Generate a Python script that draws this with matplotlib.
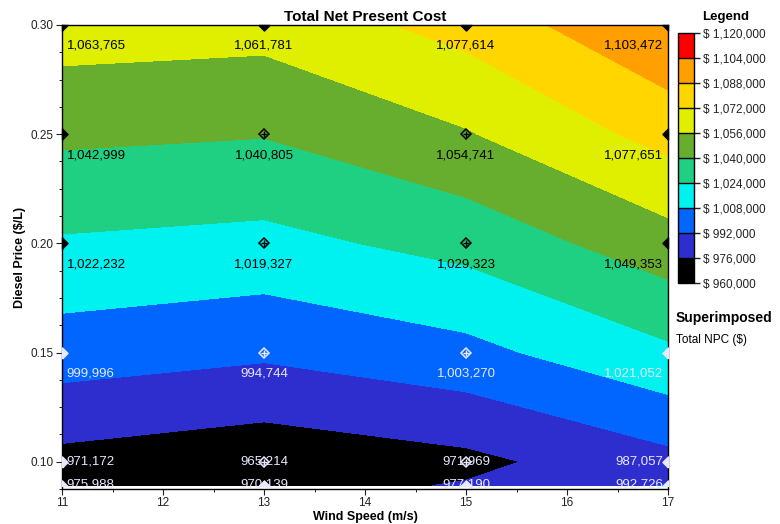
import numpy as np
import matplotlib
matplotlib.use('Agg')
import matplotlib.pyplot as plt
from matplotlib.colors import ListedColormap, BoundaryNorm

plt.rcParams['font.family'] = ['Liberation Sans', 'DejaVu Sans']

# sensitivity grid
wind_speed = [11, 13, 15, 17]
diesel_price = [0.089, 0.10, 0.15, 0.20, 0.25, 0.30]
npc = [
    [975988, 970139, 977190, 992726],
    [971172, 965214, 971969, 987057],
    [999996, 994744, 1003270, 1021052],
    [1022232, 1019327, 1029323, 1049353],
    [1042999, 1040805, 1054741, 1077651],
    [1063765, 1061781, 1077614, 1103472],
]
levels = [960000, 976000, 992000, 1008000, 1024000, 1040000,
          1056000, 1072000, 1088000, 1104000, 1120000]
band_colors = ['#000000', '#2E2ECF', '#0066FF', '#00F2F0', '#20D082',
               '#68AE2E', '#E0EE00', '#FFD600', '#FFA000', '#FF0000']

cmap = ListedColormap(band_colors)
norm = BoundaryNorm(levels, cmap.N)

fig = plt.figure(figsize=(7.8, 5.24), dpi=100)
ax = fig.add_axes([62/780, 35/524, 606/780, 464/524])

X, Y = np.meshgrid(wind_speed, diesel_price)
Z = np.array(npc, dtype=float)
cs = ax.contourf(X, Y, Z, levels=levels, cmap=cmap, norm=norm)

ax.set_xlim(11, 17)
ax.set_ylim(0.089, 0.30)
ax.set_xticks([11, 12, 13, 14, 15, 16, 17])
ax.set_xticks(np.arange(11, 17.01, 0.5), minor=True)
ax.set_yticks([0.10, 0.15, 0.20, 0.25, 0.30])
ax.set_yticks(np.arange(0.0875, 0.3001, 0.0125), minor=True)
ax.yaxis.set_major_formatter(matplotlib.ticker.FormatStrFormatter('%.2f'))
ax.tick_params(labelsize=8.5, colors='#222222', length=4, pad=2)
ax.tick_params(which='minor', length=2.5)
for sp in ax.spines.values():
    sp.set_linewidth(1.0)

ax.set_title('Total Net Present Cost', fontsize=11, fontweight='bold', pad=3)
ax.set_xlabel('Wind Speed (m/s)', fontsize=9, fontweight='bold', labelpad=1)
ax.set_ylabel('Diesel Price ($/L)', fontsize=9, fontweight='bold', labelpad=3)

nx, ny = len(wind_speed), len(diesel_price)

# markers and value labels
for i, yv in enumerate(diesel_price):
    col = 'black' if yv >= 0.2 else '#E8E8FF'
    for j, xv in enumerate(wind_speed):
        mx = 1 if j == 0 else (-1 if j == nx - 1 else 0)
        my = 1 if i == 0 else (-1 if i == ny - 1 else 0)
        if mx and my:
            verts = [(0, 0), (mx, 0), (0, my), (0, 0)]
        elif mx:
            verts = [(0, -1), (mx, 0), (0, 1), (0, -1)]
        elif my:
            verts = [(-1, 0), (0, my), (1, 0), (-1, 0)]
        else:
            verts = None
        if verts is not None:
            ax.plot(xv, yv, marker=verts, ms=8, color=col, mec=col,
                    clip_on=False, zorder=5)
        else:
            ax.plot(xv, yv, marker='D', ms=5.5, mfc='none', mec=col, mew=1.1, zorder=5)
            ax.plot(xv, yv, marker='+', ms=4, color=col, mew=1.0, zorder=6)
        if j == 0:
            ha, dx = 'left', 3.5
        elif j == nx - 1:
            ha, dx = 'right', -3.5
        else:
            ha, dx = 'center', 0
        if yv >= 0.15:
            dy = -15
        elif i == 0:
            dy = 1
        else:
            dy = 0
        txt = '{:,}'.format(npc[i][j])
        ax.annotate(txt, (xv, yv), xytext=(dx, dy), textcoords='offset points',
                    ha=ha, va='center', fontsize=9.5, color=col,
                    annotation_clip=False, clip_on=True, zorder=7)

# colour legend
cax = fig.add_axes([678/780, (524-283)/524, 16/780, 250/524])
cb = fig.colorbar(cs, cax=cax, ticks=levels, drawedges=True)
cb.ax.set_yticklabels(['$ {:,}'.format(v) for v in levels])
cb.ax.tick_params(labelsize=8.5, length=4, width=1, colors='#222222', pad=2.5)
cb.outline.set_linewidth(1.0)
cb.dividers.set_color('black')
cb.dividers.set_linewidth(1.0)

fig.text(726/780, 1 - 17/524, 'Legend', fontsize=9.5, fontweight='bold',
         ha='center', va='center')
fig.text(676/780, 1 - 318/524, 'Superimposed', fontsize=10, fontweight='bold',
         ha='left', va='center')
fig.text(676/780, 1 - 340/524, 'Total NPC ($)', fontsize=8.5,
         ha='left', va='center')

fig.savefig('out.png', dpi=100)
